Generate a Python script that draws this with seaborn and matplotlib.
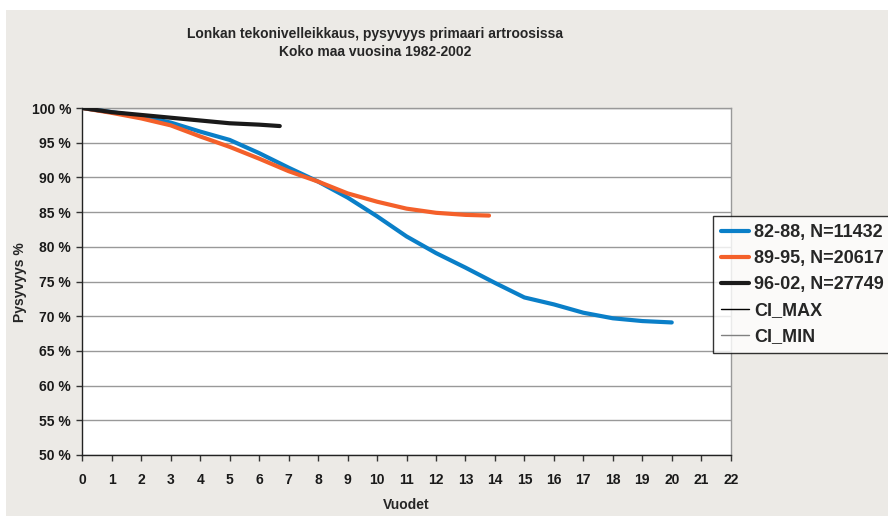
import pandas as pd
import matplotlib
matplotlib.use("Agg")
import matplotlib.pyplot as plt
from matplotlib.patches import Rectangle
from matplotlib.lines import Line2D
import seaborn as sns

# survival curves (years, % still in place)
years_8288 = [0, 1, 2, 3, 4, 5, 6, 7, 8, 9, 10, 11, 12, 13, 14, 15, 16, 17, 18, 19, 20]
surv_8288 = [100, 99.4, 98.8, 97.9, 96.6, 95.4, 93.5, 91.4, 89.4, 87.1, 84.4, 81.5,
             79.1, 77.0, 74.8, 72.7, 71.7, 70.5, 69.7, 69.3, 69.1]

years_8995 = [0, 1, 2, 3, 4, 5, 6, 7, 8, 9, 10, 11, 12, 13, 13.8]
surv_8995 = [100, 99.3, 98.5, 97.5, 95.9, 94.4, 92.7, 90.9, 89.4, 87.7, 86.5, 85.5,
             84.9, 84.6, 84.5]

years_9602 = [0, 1, 2, 3, 4, 5, 6, 6.7]
surv_9602 = [100, 99.4, 99.0, 98.6, 98.2, 97.8, 97.6, 97.4]

series_names = ["82-88, N=11432", "89-95, N=20617", "96-02, N=27749"]
series_colors = ["#0A7FC8", "#F4602A", "#1A1A1A"]
ci_names = ["CI_MAX", "CI_MIN"]

x_ticks = list(range(0, 23))
y_ticks = list(range(50, 101, 5))
y_tick_labels = [f"{v} %" for v in y_ticks]

df = pd.concat([
    pd.DataFrame({"Vuodet": years_8288, "Pysyvyys": surv_8288, "Sarja": series_names[0]}),
    pd.DataFrame({"Vuodet": years_8995, "Pysyvyys": surv_8995, "Sarja": series_names[1]}),
    pd.DataFrame({"Vuodet": years_9602, "Pysyvyys": surv_9602, "Sarja": series_names[2]}),
])

sns.set_theme(style="white")
plt.rcParams["font.family"] = ["Liberation Sans", "DejaVu Sans"]

fig = plt.figure(figsize=(8.88, 5.16), dpi=100, facecolor="white")
# backdrop of the original (a marble texture there), here a flat tone
fig.add_artist(Rectangle((6 / 888, 0), 1, 1 - 10 / 516, transform=fig.transFigure,
                         facecolor="#ECEAE6", edgecolor="none", zorder=-10))

ax = fig.add_axes([82.3 / 888, 1 - 455 / 516, 648.4 / 888, 347 / 516])
ax.set_facecolor("white")

sns.lineplot(data=df, x="Vuodet", y="Pysyvyys", hue="Sarja", hue_order=series_names,
             palette=series_colors, linewidth=3, legend=False, ax=ax, zorder=3)

ax.set_xlim(0, 22)
ax.set_ylim(50, 100)
ax.set_xticks(x_ticks)
ax.set_xticklabels([str(t) for t in x_ticks], fontsize=10, fontweight="bold", color="#1a1a1a")
ax.set_yticks(y_ticks)
ax.set_yticklabels(y_tick_labels, fontsize=10, fontweight="bold", color="#1a1a1a")
ax.tick_params(axis="x", direction="out", length=4, width=1, color="#333333", pad=9, bottom=True)
ax.tick_params(axis="y", direction="out", length=4, width=1, color="#333333", pad=4, left=True)

ax.grid(axis="y", color="#999999", linewidth=1)
ax.grid(axis="x", visible=False)
for side in ["top", "right"]:
    ax.spines[side].set_color("#999999")
    ax.spines[side].set_linewidth(1)
for side in ["left", "bottom"]:
    ax.spines[side].set_color("#222222")
    ax.spines[side].set_linewidth(1)

ax.set_xlabel("Vuodet", fontsize=10, fontweight="bold", labelpad=8)
ax.set_ylabel("")
fig.text(20 / 888, 1 - 282 / 516, "Pysyvyys %", rotation=90, ha="center", va="center",
         fontsize=10, fontweight="bold")

fig.text(375 / 888, 1 - 43 / 516,
         "Lonkan tekonivelleikkaus, pysyvyys primaari artroosissa\nKoko maa vuosina 1982-2002",
         ha="center", va="center", fontsize=10, fontweight="bold", linespacing=1.35)

handles = [Line2D([], [], color=c, linewidth=3) for c in series_colors]
handles.append(Line2D([], [], color="black", linewidth=1))
handles.append(Line2D([], [], color="#808080", linewidth=1))
leg = ax.legend(handles, series_names + ci_names, loc="upper left",
                bbox_to_anchor=(0.9732, 0.6896), frameon=True, fancybox=False,
                prop={"size": 13, "weight": "bold"}, handlelength=1.5, handletextpad=0.3,
                labelspacing=0.5, borderpad=0.45, borderaxespad=0)
leg.get_frame().set_edgecolor("black")
leg.get_frame().set_linewidth(1)
leg.get_frame().set_facecolor("white")
leg.set_zorder(5)

fig.savefig("out.png", dpi=100, facecolor=fig.get_facecolor())
